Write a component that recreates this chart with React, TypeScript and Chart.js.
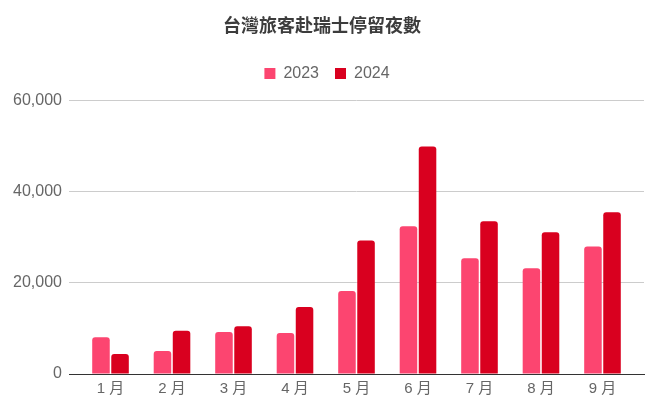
import React, { useEffect, useRef } from "react";
import { Chart, registerables } from "chart.js";

Chart.register(...registerables);

const categories = ["1 月", "2 月", "3 月", "4 月", "5 月", "6 月", "7 月", "8 月", "9 月"];
const series2023 = [8050, 5050, 9200, 9000, 18200, 32400, 25400, 23200, 28000];
const series2024 = [4400, 9500, 10500, 14700, 29300, 49900, 33500, 31100, 35500];
const seriesLabels = ["2023", "2024"];
const yTicks = [0, 20000, 40000, 60000];
const titleText = "台灣旅客赴瑞士停留夜數";

const FONT = "'Liberation Sans', Arial, 'Noto Sans CJK TC', sans-serif";

const legendAdjust = {
  id: "legendAdjust",
  beforeInit(chart: any) {
    const legend = chart.legend;
    if (!legend) return;
    const origFit = legend.fit;
    legend.fit = function () {
      origFit.call(this);
      this.height += 9;
    };
    const origDraw = legend.draw;
    legend.draw = function () {
      const ctx = this.ctx;
      ctx.save();
      ctx.translate(5, 0);
      origDraw.call(this);
      ctx.restore();
    };
  },
};

export default function App() {
  const ref = useRef<HTMLCanvasElement | null>(null);

  useEffect(() => {
    document.body.style.margin = "0";
    const canvas = ref.current;
    if (!canvas) return;
    const toPoints = (vals: number[]) => vals.map((v, i) => ({ x: i, y: v }));
    const chart = new Chart(canvas, {
      type: "bar",
      data: {
        datasets: [
          {
            label: seriesLabels[0],
            data: toPoints(series2023),
            backgroundColor: "#fc4570",
            borderRadius: 3,
            borderSkipped: "bottom",
            categoryPercentage: 0.62,
            barPercentage: 0.92,
          },
          {
            label: seriesLabels[1],
            data: toPoints(series2024),
            backgroundColor: "#d9001f",
            borderRadius: 3,
            borderSkipped: "bottom",
            categoryPercentage: 0.62,
            barPercentage: 0.92,
          },
        ] as any,
      },
      plugins: [legendAdjust],
      options: {
        responsive: false,
        animation: false,
        devicePixelRatio: 1,
        layout: { padding: { left: 0, right: 12, top: 0, bottom: 11 } },
        plugins: {
          title: {
            display: true,
            text: titleText,
            color: "#3c3c3c",
            font: { family: "'Noto Sans CJK TC', sans-serif", size: 18, weight: "bold" },
            padding: { top: 14, bottom: 14 },
          },
          legend: {
            display: true,
            labels: {
              boxWidth: 11,
              boxHeight: 11,
              padding: 16,
              color: "#666666",
              font: { family: FONT, size: 16 },
            },
          },
          tooltip: { enabled: false },
        },
        scales: {
          x: {
            type: "linear",
            min: -0.675,
            max: categories.length - 1 + 0.675,
            offset: false,
            afterBuildTicks: (axis: any) => {
              axis.ticks = categories.map((_, i) => ({ value: i }));
            },
            grid: { display: false, drawTicks: false },
            border: { display: true, color: "#333333", width: 1 },
            ticks: {
              color: "#666666",
              font: { family: FONT, size: 15 },
              padding: 6,
              autoSkip: false,
              maxRotation: 0,
              callback: (v: any) => categories[Math.round(Number(v))] ?? "",
            },
          },
          y: {
            min: 0,
            max: 60000,
            afterBuildTicks: (axis: any) => {
              axis.ticks = yTicks.map((v) => ({ value: v }));
            },
            afterFit: (axis: any) => {
              axis.width = 69;
            },
            grid: {
              color: (ctx: any) => (ctx.tick && ctx.tick.value === 0 ? "rgba(0,0,0,0)" : "#cccccc"),
              drawTicks: false,
            },
            border: { display: false },
            ticks: {
              color: "#666666",
              font: { family: FONT, size: 16 },
              padding: 7,
              callback: (v: any) => Number(v).toLocaleString("en-US"),
            },
          },
        },
      },
    });
    return () => chart.destroy();
  }, []);

  return (
    <div style={{ position: "fixed", left: 0, top: 0, width: 656, height: 415, background: "#fff" }}>
      <canvas ref={ref} width={656} height={415} style={{ width: 656, height: 415 }} />
    </div>
  );
}
